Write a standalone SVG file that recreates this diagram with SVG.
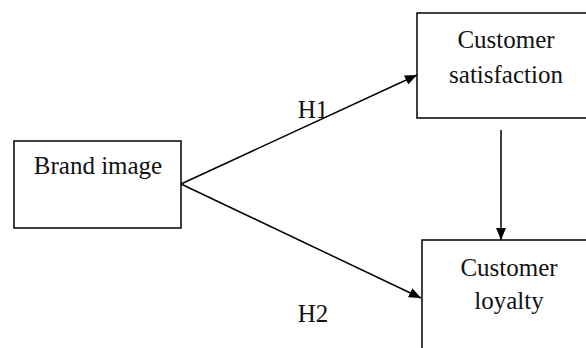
<svg xmlns="http://www.w3.org/2000/svg" width="586" height="348" viewBox="0 0 586 348">
<style>
.box{fill:#fff;stroke:#000;stroke-width:1.5}
.t{font-family:"Liberation Serif","Times New Roman",serif;font-size:25px;fill:#111;text-anchor:middle}
.c{stroke:#000;stroke-width:1.5;fill:none;marker-end:url(#ah)}
</style>
<defs>
<marker id="ah" viewBox="0 0 12 10" refX="12" refY="5" markerWidth="12" markerHeight="10" markerUnits="userSpaceOnUse" orient="auto">
<path d="M0,0 L12,5 L0,10 Z" fill="#000"/>
</marker>
</defs>
<rect width="586" height="348" fill="#fff"/>
<g id="connectors">
<line class="c" x1="181" y1="184" x2="417" y2="75"/>
<line class="c" x1="181" y1="184" x2="421" y2="298"/>
<line class="c" x1="501" y1="130" x2="501" y2="240"/>
<text class="t" x="313" y="118">H1</text>
<text class="t" x="313" y="322">H2</text>
</g>
<g id="brand-image">
<rect class="box" x="14" y="141" width="167" height="87"/>
<text class="t" x="98" y="174">Brand image</text>
</g>
<g id="customer-satisfaction">
<rect class="box" x="417" y="13" width="180" height="105"/>
<text class="t" x="506" y="48">Customer</text>
<text class="t" x="506" y="83">satisfaction</text>
</g>
<g id="customer-loyalty">
<rect class="box" x="422" y="240" width="180" height="120"/>
<text class="t" x="509" y="276">Customer</text>
<text class="t" x="509" y="309">loyalty</text>
</g>
</svg>
